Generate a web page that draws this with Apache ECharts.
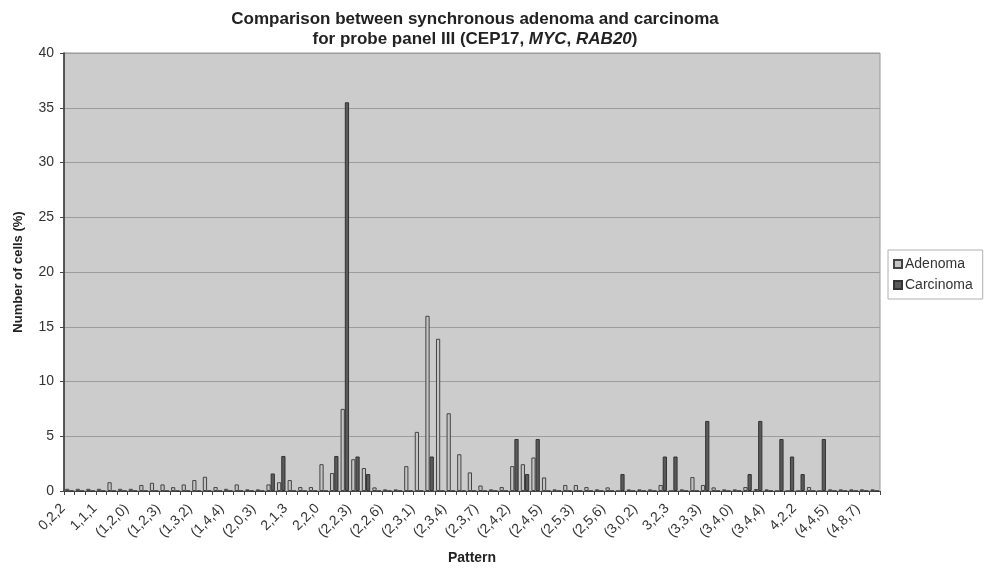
<!DOCTYPE html>
<html>
<head>
<meta charset="utf-8">
<script src="https://cdn.jsdelivr.net/npm/echarts@6/dist/echarts.min.js"></script>
<style>
html,body{margin:0;padding:0;background:#fff;}
#chart{width:986px;height:570px;}
</style>
</head>
<body>
<div id="chart"></div>
<script>
const categories = [
"0,2,2","(1,0,2)","(1,1,0)","1,1,1","(1,1,2)","(1,1,3)","(1,2,0)","(1,2,1)","(1,2,2)","(1,2,3)",
"(1,2,4)","(1,3,1)","(1,3,2)","(1,3,3)","(1,4,2)","(1,4,4)","(2,0,1)","(2,0,2)","(2,0,3)","(2,1,1)",
"(2,1,2)","2,1,3","(2,1,4)","(2,1,5)","2,2,0","(2,2,1)","(2,2,2)","(2,2,3)","(2,2,4)","(2,2,5)",
"(2,2,6)","(2,2,8)","(2,3,0)","(2,3,1)","(2,3,2)","(2,3,3)","(2,3,4)","(2,3,5)","(2,3,6)","(2,3,7)",
"(2,4,0)","(2,4,1)","(2,4,2)","(2,4,3)","(2,4,4)","(2,4,5)","(2,4,6)","(2,5,2)","(2,5,3)","(2,5,4)",
"(2,5,5)","(2,5,6)","(2,6,6)","(3,0,1)","(3,0,2)","(3,1,2)","(3,2,2)","3,2,3","(3,2,4)","(3,3,2)",
"(3,3,3)","(3,3,4)","(3,3,5)","(3,4,0)","(3,4,2)","(3,4,3)","(3,4,4)","(3,4,5)","(4,2,1)","4,2,2",
"(4,2,3)","(4,3,3)","(4,4,5)","(4,4,6)","(4,6,6)","(4,8,7)","(5,5,5)"
];
const adenoma = [
0.2,0.2,0.2,0.2,0.8,0.2,0.2,0.55,0.75,0.6,
0.35,0.6,1.0,1.3,0.36,0.2,0.6,0.15,0.15,0.6,
0.8,1.0,0.36,0.36,2.45,1.64,7.5,2.9,2.1,0.33,
0.15,0.15,2.27,5.4,16.0,13.9,7.1,3.36,1.7,0.5,
0.15,0.36,2.27,2.45,3.06,1.24,0.15,0.55,0.55,0.36,
0.15,0.33,0,0.15,0.15,0.15,0.55,0,0.15,1.27,
0.55,0.33,0.15,0.15,0.36,0.18,0.15,0,0,0,
0.36,0,0.15,0.15,0.15,0.15,0.15
];
const carcinoma = [
0,0,0,0,0,0,0,0,0,0,
0,0,0,0,0,0,0,0,0,1.6,
3.2,0,0,0,0,3.2,35.5,3.15,1.55,0,
0,0,0,0,3.15,0,0,0,0,0,
0,0,4.75,1.55,4.75,0,0,0,0,0,
0,0,1.55,0,0,0,3.15,3.15,0,0,
6.4,0,0,0,1.55,6.4,0,4.75,3.15,1.55,
0,4.75,0,0,0,0,0
];
const yTicks = [0,5,10,15,20,25,30,35,40];

const FONT = "Liberation Sans, Arial, sans-serif";
const chart = echarts.init(document.getElementById('chart'), null, {renderer:'canvas'});
chart.setOption({
  backgroundColor:'#ffffff',
  animation:false,
  textStyle:{fontFamily:FONT},
  title:{
    text:'Comparison between synchronous adenoma and carcinoma\nfor probe panel III (CEP17, {i|MYC}, {i|RAB20})',
    left:470, top:4, textAlign:'center',
    textStyle:{
      fontFamily:FONT, fontSize:17, fontWeight:'bold', color:'#222', lineHeight:20,
      rich:{i:{fontFamily:FONT, fontSize:17, fontWeight:'bold', fontStyle:'italic', color:'#222', lineHeight:20}}
    }
  },
  legend:{
    orient:'vertical', left:888, top:250,
    data:['Adenoma','Carcinoma'],
    icon:'rect', itemWidth:8, itemHeight:8, itemGap:7,
    backgroundColor:'#ffffff', borderColor:'#b0b0b0', borderWidth:1,
    padding:[7,10,7,5],
    textStyle:{fontFamily:FONT, fontSize:14, color:'#333', padding:[0,0,0,-2]}
  },
  grid:{
    left:64, right:106, top:53, bottom:77, show:true,
    backgroundColor:'#cccccc', borderColor:'#999999', borderWidth:1
  },
  xAxis:{
    type:'category', data:categories, boundaryGap:true,
    name:'Pattern', nameLocation:'middle', nameGap:60,
    nameTextStyle:{fontFamily:FONT, fontSize:14, fontWeight:'bold', color:'#222'},
    axisLine:{lineStyle:{color:'#444', width:1}},
    axisTick:{show:true, interval:0, length:4, lineStyle:{color:'#444'}},
    axisLabel:{interval:2, rotate:45, fontSize:14, color:'#333', fontFamily:FONT, margin:9,
      padding:[0,9,0,0]}
  },
  yAxis:{
    type:'value', min:0, max:40, interval:5,
    name:'Number of cells (%)', nameLocation:'middle', nameGap:39,
    nameTextStyle:{fontFamily:FONT, fontSize:13, fontWeight:'bold', color:'#222'},
    axisLine:{show:true, lineStyle:{color:'#333', width:1.5}},
    axisTick:{show:true, length:4, lineStyle:{color:'#444'}},
    axisLabel:{fontSize:14, color:'#333', fontFamily:FONT, margin:10,
      formatter:function(v){return yTicks.indexOf(v)>=0 ? String(v) : '';}},
    splitLine:{show:true, lineStyle:{color:'#9c9c9c', width:1}}
  },
  series:[
    {name:'Adenoma', type:'bar', data:adenoma, barGap:'0%', barCategoryGap:'20%',
     itemStyle:{color:'#c4c4c4', borderColor:'#444', borderWidth:1}},
    {name:'Carcinoma', type:'bar', data:carcinoma, barGap:'0%', barCategoryGap:'20%',
     itemStyle:{color:'#5a5a5a', borderColor:'#333', borderWidth:1}}
  ]
});
</script>
</body>
</html>
